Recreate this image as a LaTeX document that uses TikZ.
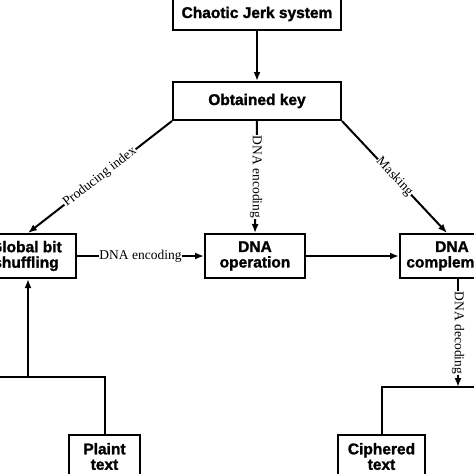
\documentclass[tikz,border=0pt]{standalone}
\usepackage{fontspec}
\setmainfont{Liberation Serif}
\setsansfont{Liberation Sans}
\newfontfamily\heavyfont{Liberation Sans}[UprightFont=*-Bold, FakeBold=1.5]
\usetikzlibrary{arrows.meta}
\tikzset{
  box/.style={draw, line width=2pt, align=center, inner sep=0pt,
    font=\heavyfont\fontsize{15.5}{15.5}\selectfont},
  conn/.style={line width=2pt},
  arr/.style={conn, -{Latex[length=9pt,width=7pt]}},
  lab/.style={fill=white, inner sep=0.5pt, font=\fontsize{13.5}{14}\selectfont}
}
\begin{document}
\begin{tikzpicture}[x=1pt,y=-1pt]
\useasboundingbox (0,0) rectangle (474,474);
\clip (0,0) rectangle (474,474);
\node[box, minimum width=168, minimum height=32] (jerk) at (257,14) {Chaotic Jerk system};
\node[box, minimum width=168, minimum height=38] (key) at (257,101) {Obtained key};
\node[box, minimum width=100, minimum height=44] (glob) at (26,256) {Global bit\\shuffling};
\node[box, minimum width=100, minimum height=44] (op) at (255,256) {DNA\\operation};
\node[box, minimum width=104, minimum height=44] (comp) at (452,256) {DNA\\complement};
\node[box, minimum width=71, minimum height=43] (plain) at (104.5,456.5) {Plaint\\text};
\node[box, minimum width=87, minimum height=43] (ciph) at (381.5,456.5) {Ciphered\\text};
\coordinate (lj) at (28,377);
\coordinate (lend) at (-10,377);
\coordinate (rj) at (458,387);
\coordinate (rend) at (490,387);
\draw[arr] (jerk) -- (key);
\draw[arr] (key.south west) -- node[lab, sloped] {Producing index} (glob.north -| lj);
\draw[arr] (key.south) -- node[lab, rotate=-90] {DNA encoding} (op.north);
\draw[arr] (key.south east) -- node[lab, sloped] {Masking} ([xshift=-5pt]comp.north);
\draw[arr] (glob.east) -- node[lab] {DNA encoding} (op.west);
\draw[arr] (op.east) -- (comp.west);
\draw[arr] (comp.south -| rj) -- node[lab, rotate=-90] {DNA decoding} (rj);
\draw[conn] (plain.north) |- (lend);
\draw[arr] (lj) -- (glob.south -| lj);
\draw[conn] (ciph.north) |- (rend);
\end{tikzpicture}
\end{document}
